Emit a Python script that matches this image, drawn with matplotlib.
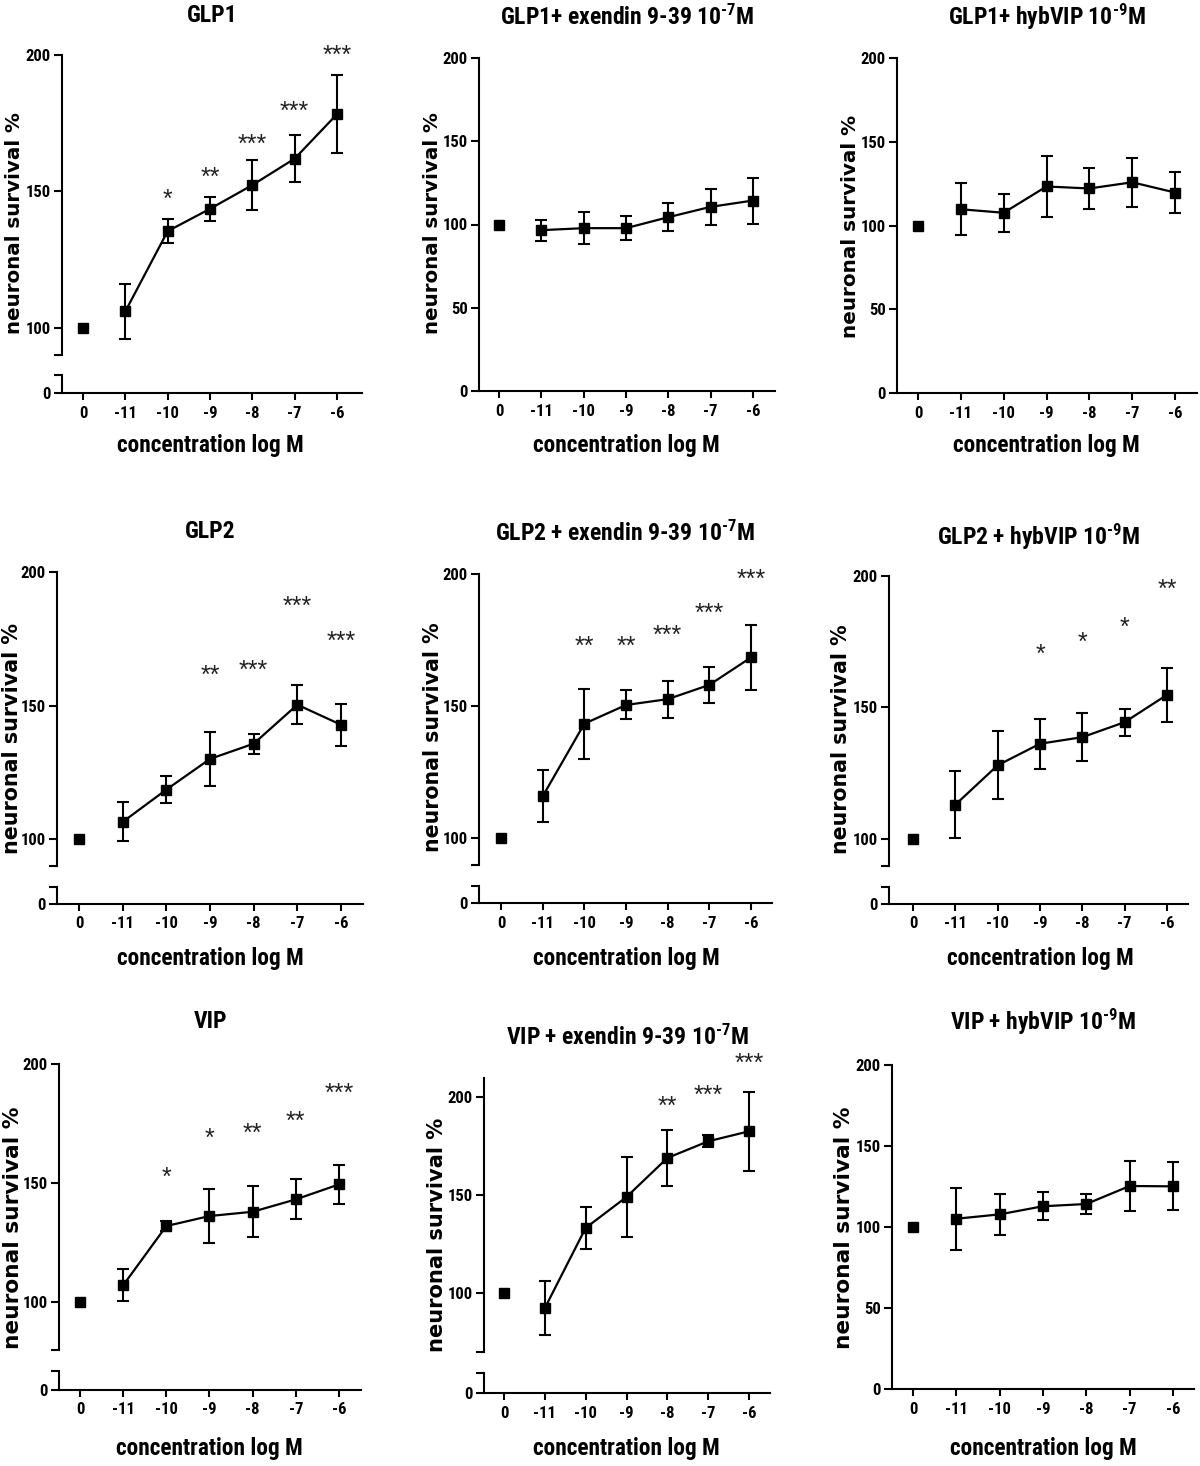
import numpy as np
import matplotlib
matplotlib.use("Agg")
import matplotlib.pyplot as plt
import matplotlib.font_manager as fm
from matplotlib.transforms import offset_copy

# ---------------- data ----------------
x_labels = ["0", "-11", "-10", "-9", "-8", "-7", "-6"]
x_title = "concentration log M"
y_title = "neuronal survival %"

titles = [
    "GLP1", "GLP1+ exendin 9-39 10$^{\u20107}$M", "GLP1+ hybVIP 10$^{\u20109}$M",
    "GLP2", "GLP2 + exendin 9-39 10$^{\u20107}$M", "GLP2 + hybVIP 10$^{\u20109}$M",
    "VIP", "VIP + exendin 9-39 10$^{\u20107}$M", "VIP + hybVIP 10$^{\u20109}$M",
]

glp1_mean = [100, 106.0, 135.4, 143.6, 152.3, 162.0, 178.3]
glp1_err = [0, 10.0, 4.5, 4.5, 9.3, 8.7, 14.3]
glp1_stars = ["", "", "*", "**", "***", "***", "***"]
glp1_star_y = [None, None, 149.6, 157.9, 169.9, 182.0, 202.4]

glp1_ex_mean = [100, 96.6, 97.8, 97.8, 104.4, 110.6, 114.4]
glp1_ex_err = [0, 6.4, 9.6, 7.4, 8.6, 10.9, 13.8]

glp1_hyb_mean = [100, 109.7, 107.6, 123.3, 122.1, 125.8, 119.7]
glp1_hyb_err = [0, 15.5, 11.5, 18.0, 12.0, 14.7, 12.0]

glp2_mean = [100, 106.4, 118.5, 130.0, 135.7, 150.3, 142.8]
glp2_err = [0, 7.3, 5.0, 10.2, 3.7, 7.2, 7.9]
glp2_stars = ["", "", "", "**", "***", "***", "***"]
glp2_star_y = [None, None, None, 164.0, 165.9, 189.6, 176.5]

glp2_ex_mean = [100, 115.8, 143.3, 150.4, 152.6, 158.0, 168.4]
glp2_ex_err = [0, 9.8, 13.2, 5.5, 7.0, 6.8, 12.4]
glp2_ex_stars = ["", "", "**", "**", "***", "***", "***"]
glp2_ex_star_y = [None, None, 175.3, 175.3, 179.5, 187.6, 200.5]

glp2_hyb_mean = [100, 113.0, 128.0, 136.2, 138.7, 144.4, 154.8]
glp2_hyb_err = [0, 12.8, 13.0, 9.6, 9.2, 5.2, 10.3]
glp2_hyb_stars = ["", "", "", "*", "*", "*", "**"]
glp2_hyb_star_y = [None, None, None, 172.8, 177.6, 183.0, 197.5]

vip_mean = [100, 107.0, 131.9, 136.1, 137.9, 143.1, 149.4]
vip_err = [0, 6.7, 2.1, 11.3, 10.8, 8.4, 8.3]
vip_stars = ["", "", "*", "*", "**", "**", "***"]
vip_star_y = [None, None, 155.5, 171.6, 173.7, 178.7, 190.6]

vip_ex_mean = [100, 92.3, 133.2, 149.0, 168.9, 177.4, 182.5]
vip_ex_err = [0, 13.6, 10.5, 20.5, 14.5, 3.0, 20.0]
vip_ex_stars = ["", "", "", "", "**", "***", "***"]
vip_ex_star_y = [None, None, None, None, 199.0, 204.6, 221.0]

vip_hyb_mean = [100, 105.1, 107.8, 112.8, 114.2, 125.3, 125.1]
vip_hyb_err = [0, 19.0, 12.5, 8.7, 6.4, 15.5, 14.8]

series = [
    (glp1_mean, glp1_err, glp1_stars, glp1_star_y),
    (glp1_ex_mean, glp1_ex_err, None, None),
    (glp1_hyb_mean, glp1_hyb_err, None, None),
    (glp2_mean, glp2_err, glp2_stars, glp2_star_y),
    (glp2_ex_mean, glp2_ex_err, glp2_ex_stars, glp2_ex_star_y),
    (glp2_hyb_mean, glp2_hyb_err, glp2_hyb_stars, glp2_hyb_star_y),
    (vip_mean, vip_err, vip_stars, vip_star_y),
    (vip_ex_mean, vip_ex_err, vip_ex_stars, vip_ex_star_y),
    (vip_hyb_mean, vip_hyb_err, None, None),
]

# ---------------- layout (pixels) ----------------
W, H = 1200, 1466
geom = [
    dict(x0=62, x1=362, xf=83, xl=337, top=55, brk=355, stub=375, zero=393, ymax=200, ybrk=90.0),
    dict(x0=479, x1=775, xf=499, xl=753, top=58, zero=391, ymax=200),
    dict(x0=897, x1=1197, xf=918, xl=1175, top=58, zero=393, ymax=200),
    dict(x0=57, x1=363, xf=79, xl=341, top=572, brk=866, stub=887, zero=904, ymax=200, ybrk=89.9),
    dict(x0=479, x1=772, xf=501, xl=751, top=574, brk=865, stub=886, zero=903, ymax=200, ybrk=89.8),
    dict(x0=889, x1=1188, xf=913, xl=1167, top=576, brk=866, stub=887, zero=904, ymax=200, ybrk=89.7),
    dict(x0=59, x1=361, xf=80, xl=339, top=1064, brk=1350, stub=1371, zero=1390, ymax=200, ybrk=79.8),
    dict(x0=484, x1=770, xf=504, xl=749, top=1078, brk=1352, stub=1373, zero=1393, ymax=209.7, ybrk=69.9),
    dict(x0=892, x1=1194, xf=913, xl=1173, top=1065, zero=1389, ymax=200),
]
title_y = [15, 17, 17, 532, 533, 537, 1022, 1037, 1022]
xlab_y = [445, 445, 445, 959, 959, 959, 1448, 1448, 1448]
ylab_xy = [(15, 223), (432, 223), (850, 226), (12, 738), (433, 737), (841, 739),
           (13, 1228), (437, 1235), (844, 1228)]
ylab_size = [14.3, 14.3, 14.4, 14.9, 14.8, 14.8, 15.6, 15.1, 15.6]

# ---------------- fonts ----------------
_names = {f.name for f in fm.fontManager.ttflist}
NARROW = "Liberation Sans"
for cand in ("Roboto Condensed", "PT Sans Narrow", "Liberation Sans Narrow"):
    if cand in _names:
        NARROW = cand
        break
NSCALE = 1.0 if NARROW != "Liberation Sans" else 0.86
plt.rcParams["font.family"] = [NARROW, "DejaVu Sans"]
plt.rcParams["mathtext.fontset"] = "custom"
plt.rcParams["mathtext.rm"] = NARROW + ":bold"
plt.rcParams["mathtext.it"] = NARROW + ":bold"
plt.rcParams["mathtext.bf"] = NARROW + ":bold"
plt.rcParams["mathtext.sf"] = NARROW + ":bold"

TICK_FS = 12 * NSCALE
TITLE_FS = 17 * NSCALE
XLAB_FS = 16.8 * NSCALE

fig = plt.figure(figsize=(W / 100, H / 100), dpi=100)
fig.patch.set_facecolor("white")


def rect(x0, x1, ytop, ybot):
    return [x0 / W, 1 - ybot / H, (x1 - x0) / W, (ybot - ytop) / H]


def style_y(ax):
    ax.tick_params(axis="y", direction="out", length=6, width=1.5, pad=2,
                   labelsize=TICK_FS)
    for lab in ax.get_yticklabels():
        lab.set_fontweight("bold")


xpos = np.arange(len(x_labels))

for i, (g, (mean, err, stars, star_y)) in enumerate(zip(geom, series)):
    sp = (g["xl"] - g["xf"]) / 6.0
    xlim = ((g["x0"] - g["xf"]) / sp, (g["x1"] - g["xf"]) / sp)
    broken = "brk" in g
    if broken:
        ax = fig.add_axes(rect(g["x0"], g["x1"], g["top"], g["brk"]))
        axb = fig.add_axes(rect(g["x0"], g["x1"], g["stub"], g["zero"]))
        ax.set_ylim(g["ybrk"], g["ymax"])
        ax.set_yticks([g["ybrk"], 100, 150, 200])
        ax.set_yticklabels(["", "100", "150", "200"])
        ax.spines["bottom"].set_visible(False)
        ax.tick_params(axis="x", bottom=False, labelbottom=False)
        axb.set_ylim(0, 1)
        axb.set_yticks([0, 1])
        axb.set_yticklabels(["0", ""])
    else:
        ax = fig.add_axes(rect(g["x0"], g["x1"], g["top"], g["zero"]))
        axb = ax
        ax.set_ylim(0, g["ymax"])
        ax.set_yticks([0, 50, 100, 150, 200])
        ax.set_yticklabels(["0", "50", "100", "150", "200"])
    for a in {ax, axb}:
        a.set_xlim(*xlim)
        a.set_facecolor("none")
        for s in ("top", "right"):
            a.spines[s].set_visible(False)
        for s in ("left", "bottom"):
            a.spines[s].set_linewidth(1.5)
        style_y(a)
    axb.set_xticks(xpos)
    axb.set_xticklabels(x_labels, fontweight="bold")
    axb.tick_params(axis="x", direction="out", length=5, width=1.5, pad=4,
                    labelsize=TICK_FS)

    # control point
    ax.plot(xpos[:1], mean[:1], marker="s", ms=7, color="black", ls="none",
            clip_on=False, zorder=4)
    # dose-response curve
    ax.errorbar(xpos[1:], mean[1:], yerr=err[1:], fmt="-s", color="black",
                ms=7.5, lw=1.6, elinewidth=1.5, capsize=4.5, capthick=1.5,
                clip_on=False, zorder=3)

    if stars is not None:
        tr = offset_copy(ax.transData, fig=fig, x=0, y=-10.5, units="points")
        for xv, st, sy in zip(xpos, stars, star_y):
            if st and sy is not None:
                ax.text(xv, sy, st, transform=tr, ha="center", va="baseline",
                        fontsize=18, family="Liberation Sans", color="#222222",
                        clip_on=False)

    cx = (g["x0"] + g["x1"]) / 2.0
    fig.text(cx / W, 1 - title_y[i] / H, titles[i], ha="center", va="center",
             fontsize=TITLE_FS, fontweight="bold")
    fig.text((g["xf"] + g["xl"]) / 2 / W, 1 - xlab_y[i] / H, x_title,
             ha="center", va="center", fontsize=XLAB_FS, fontweight="bold")
    lx, ly = ylab_xy[i]
    fig.text(lx / W, 1 - ly / H, y_title, rotation=90, ha="center",
             va="center", fontsize=ylab_size[i], fontweight="bold",
             family=["DejaVu Sans"])

fig.savefig("out.png", dpi=100, facecolor="white")
